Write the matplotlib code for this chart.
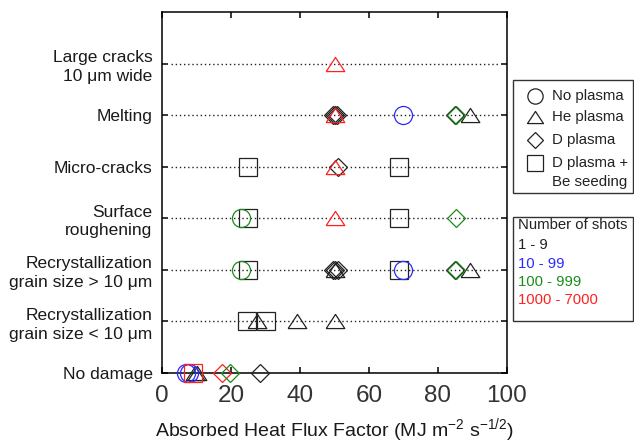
import numpy as np
import matplotlib
matplotlib.use('Agg')
import matplotlib.pyplot as plt
from matplotlib.patches import Rectangle

plt.rcParams.update({'font.family': ['Liberation Sans', 'DejaVu Sans'],
                     'mathtext.fontset': 'custom',
                     'mathtext.rm': 'Liberation Sans',
                     'mathtext.it': 'Liberation Sans:italic'})

# damage categories, bottom to top
categories = ['No damage',
              'Recrystallization\ngrain size < 10 μm',
              'Recrystallization\ngrain size > 10 μm',
              'Surface\nroughening',
              'Micro-cracks',
              'Melting',
              'Large cracks\n10 μm wide']

# each point: category row, heat flux factor, plasma type, shot group
pt_row = [6,
          5, 5, 5, 5, 5, 5, 5, 5,
          4, 4, 4, 4,
          3, 3, 3, 3, 3,
          2, 2, 2, 2, 2, 2, 2, 2, 2, 2, 2,
          1, 1, 1, 1, 1,
          0, 0, 0, 0, 0, 0, 0, 0]
pt_x = [50.0,
        49.5, 50.2, 50.8, 50.0, 69.9, 85.0, 85.3, 89.3,
        24.9, 51.0, 50.0, 68.7,
        22.9, 24.9, 50.0, 68.7, 85.2,
        22.9, 24.9, 49.5, 50.2, 50.9, 50.2, 68.7, 69.9, 85.0, 85.3, 89.3,
        24.6, 30.2, 27.4, 39.1, 50.1,
        6.8, 7.8, 8.9, 9.5, 10.2, 17.4, 19.8, 28.3]
pt_plasma = ['He',
             'D', 'D', 'D', 'He', 'none', 'D', 'D', 'He',
             'DBe', 'D', 'He', 'DBe',
             'none', 'DBe', 'He', 'DBe', 'D',
             'none', 'DBe', 'D', 'D', 'D', 'He', 'DBe', 'none', 'D', 'D', 'He',
             'DBe', 'DBe', 'He', 'He', 'He',
             'none', 'none', 'DBe', 'He', 'He', 'D', 'D', 'D']
pt_shots = [3,
            0, 0, 0, 3, 1, 0, 2, 0,
            0, 0, 3, 0,
            2, 0, 3, 0, 2,
            2, 0, 0, 0, 0, 0, 0, 1, 0, 2, 0,
            0, 0, 0, 0, 0,
            1, 1, 3, 0, 0, 3, 2, 0]

shot_labels = ['1 - 9', '10 - 99', '100 - 999', '1000 - 7000']
shot_colors = ['#222222', '#2a2aff', '#1a8c1a', '#ff2020']
plasma_labels = ['No plasma', 'He plasma', 'D plasma', 'D plasma +\nBe seeding']

tri = [(-0.5, -0.38), (0.5, -0.38), (0.0, 0.38), (-0.5, -0.38)]
MARK = {'none': ('o', 13.0), 'He': (tri, 13.4), 'D': ('D', 9.2), 'DBe': ('s', 13.2)}

fig = plt.figure(figsize=(6.34, 4.43), dpi=100)
ax = fig.add_axes([162.3/634, 1 - 373/443, (506.7 - 162.3)/634, (373 - 12)/443])

for r in range(len(categories)):
    ax.axhline(r, xmin=0.025, xmax=0.975, color='#222222', lw=1.0,
               linestyle=(0, (1, 2)), zorder=1)

order = sorted(range(len(pt_x)), key=lambda i: pt_shots[i] != 0)
for i in order:
    m, ms = MARK[pt_plasma[i]]
    ax.plot(pt_x[i], pt_row[i], marker=m, ms=ms, mfc='none',
            mec=shot_colors[pt_shots[i]], mew=0.9, ls='none',
            clip_on=False, zorder=3)

ax.set_xlim(0, 100)
ax.set_ylim(0, 7)
ax.set_xticks([0, 20, 40, 60, 80, 100])
ax.set_yticks(range(len(categories)))
ax.set_yticklabels(categories, fontsize=12.5, linespacing=1.3, color='#1a1a1a')
ax.tick_params(axis='x', direction='in', top=True, length=4.5, width=1.1,
               labelsize=17.5, pad=9, labelcolor='#333333')
ax.tick_params(axis='y', direction='in', right=True, length=4.5, width=1.1, pad=7)
for s in ax.spines.values():
    s.set_linewidth(1.1)
ax.set_xlabel(r'Absorbed Heat Flux Factor (MJ m$^{-2}$ s$^{-1/2}$)', fontsize=14,
              labelpad=6, color='#1a1a1a')

# legend boxes drawn in figure pixel coordinates
lax = fig.add_axes([0, 0, 1, 1], facecolor='none')
lax.set_xlim(0, 634); lax.set_ylim(443, 0); lax.axis('off')
lax.add_patch(Rectangle((513, 80), 120, 113, fill=False, ec='#333333', lw=1.0))
lax.add_patch(Rectangle((513, 217), 120, 104, fill=False, ec='#333333', lw=1.0))

leg_y = [96, 117, 140, 163]
leg_ms = {'none': 11, 'He': 11.5, 'D': 8.0, 'DBe': 11}
for key, yy, lab in zip(['none', 'He', 'D', 'DBe'], leg_y, plasma_labels):
    m, _ = MARK[key]
    lax.plot(535, yy, marker=m, ms=leg_ms[key], mfc='none', mec='#222222',
             mew=0.9, ls='none')
    lines = lab.split('\n')
    for k, line in enumerate(lines):
        lax.text(552, yy + 19*k, line, fontsize=10.8, va='center', ha='left',
                 color='#222222')

lax.text(518, 225, 'Number of shots', fontsize=10.7, va='center', color='#222222')
for k, (lab, c) in enumerate(zip(shot_labels, shot_colors)):
    lax.text(518, 245 + 18.5*k, lab, fontsize=10.7, va='center', color=c)

plt.savefig('out.png', dpi=100)
